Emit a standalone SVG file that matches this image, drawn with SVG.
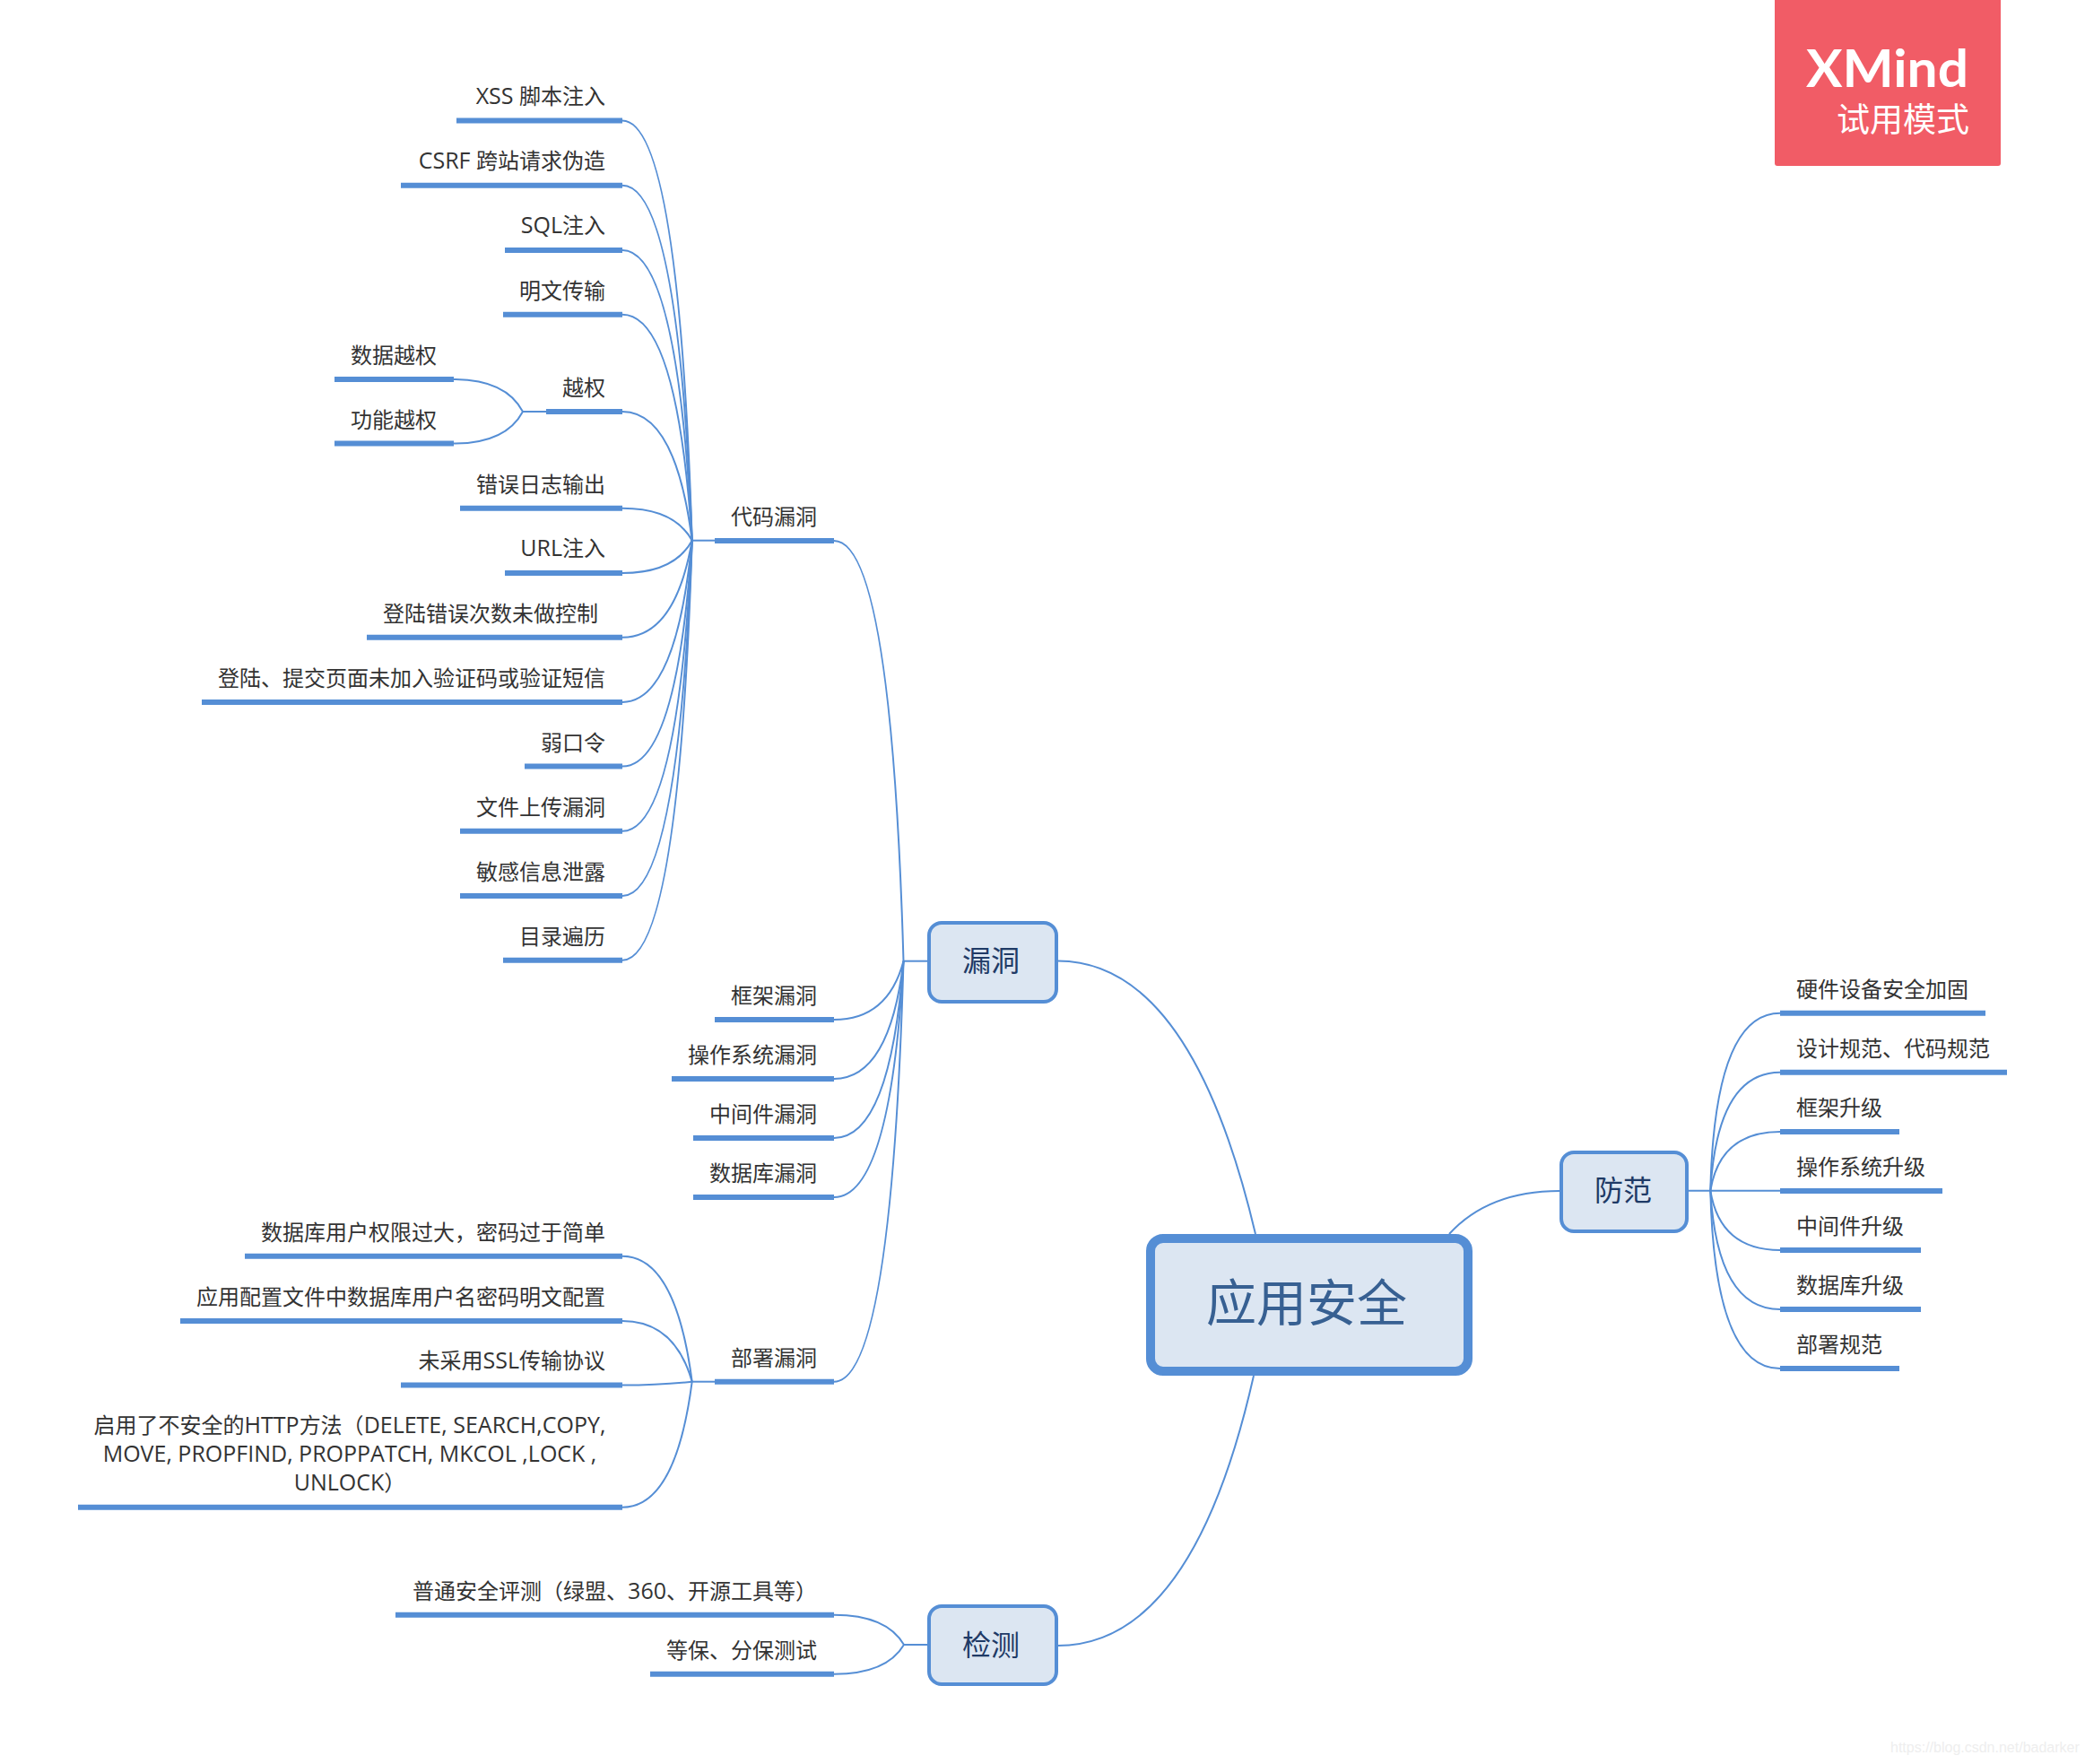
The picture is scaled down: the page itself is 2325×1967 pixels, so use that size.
<svg xmlns="http://www.w3.org/2000/svg" width="2325" height="1967" viewBox="0 0 2325 1967">
<style>
text{font-family:"Open Sans","Noto Sans CJK SC",sans-serif;fill:#333;font-size:24px}
tspan{font-size:25px}
.e{text-anchor:end}
.m{text-anchor:middle}
.u{stroke:#558ed5;stroke-width:6;fill:none}
.c{stroke:#558ed5;stroke-width:2;fill:none}
.n{fill:#dce6f2;stroke:#558ed5;stroke-width:4}
.t{font-size:32px;fill:#1f3a66;text-anchor:middle}
</style>
<rect width="2325" height="1967" fill="#fff"/>
<g id="connectors">
<path class="c" d="M1179.5 1071.5Q1328 1071.5 1400 1376"/>
<path class="c" d="M1179.5 1835Q1330 1835 1398 1534"/>
<path class="c" d="M1616 1376Q1660 1328 1739 1328"/>
<path class="c" d="M1034 1071.7H1007.5"/>
<path class="c" d="M1034 1834H1008"/>
<path class="c" d="M1883 1327.7H1985"/>
<path class="c" d="M797 602.7H771.7"/>
<path class="c" d="M797 1540.7H771.7"/>
<path class="c" d="M609 459H583"/>
<path class="c" d="M930 602.9Q994 602.9 1007.5 1071.7"/>
<path class="c" d="M930 1137Q990 1137 1007.5 1071.7"/>
<path class="c" d="M930 1203Q992 1203 1007.5 1071.7"/>
<path class="c" d="M930 1269Q992.5 1269 1007.5 1071.7"/>
<path class="c" d="M930 1335Q993 1335 1007.5 1071.7"/>
<path class="c" d="M930 1540.7Q994 1540.7 1007.5 1071.7"/>
<path class="c" d="M694 134.6Q757 134.6 771.7 602.7"/>
<path class="c" d="M694 206.8Q756.5 206.8 771.7 602.7"/>
<path class="c" d="M694 279Q755.7 279 771.7 602.7"/>
<path class="c" d="M694 350.7Q755 350.7 771.7 602.7"/>
<path class="c" d="M694 459Q753.5 459 771.7 602.7"/>
<path class="c" d="M694 566.8Q752 566.8 771.7 602.7"/>
<path class="c" d="M694 639Q752 639 771.7 602.7"/>
<path class="c" d="M694 710.7Q753 710.7 771.7 602.7"/>
<path class="c" d="M694 782.9Q754 782.9 771.7 602.7"/>
<path class="c" d="M694 854.6Q755 854.6 771.7 602.7"/>
<path class="c" d="M694 926.8Q755.7 926.8 771.7 602.7"/>
<path class="c" d="M694 999Q756.5 999 771.7 602.7"/>
<path class="c" d="M694 1070.7Q757 1070.7 771.7 602.7"/>
<path class="c" d="M506 422.9Q564 422.9 583 459"/>
<path class="c" d="M506 494.6Q564 494.6 583 459"/>
<path class="c" d="M694 1400.7Q753.5 1400.7 771.7 1540.7"/>
<path class="c" d="M694 1472.9Q752.5 1472.9 771.7 1540.7"/>
<path class="c" d="M694 1544.6Q735 1544.6 771.7 1540.7"/>
<path class="c" d="M694 1680.7Q753.5 1680.7 771.7 1540.7"/>
<path class="c" d="M930 1800.7Q988.5 1800.7 1008 1834"/>
<path class="c" d="M930 1866.7Q988.5 1866.7 1008 1834"/>
<path class="c" d="M1985 1129.7Q1912 1129.7 1907.3 1327.7"/>
<path class="c" d="M1985 1195.7Q1915 1195.7 1907.3 1327.7"/>
<path class="c" d="M1985 1262Q1918 1262 1907.3 1327.7"/>
<path class="c" d="M1985 1394Q1918 1394 1907.3 1327.7"/>
<path class="c" d="M1985 1460Q1915 1460 1907.3 1327.7"/>
<path class="c" d="M1985 1526Q1912 1526 1907.3 1327.7"/>
</g>
<g id="root"><rect x="1283" y="1381" width="354" height="148" rx="14" fill="#dce6f2" stroke="#558ed5" stroke-width="10"/><text x="1457" y="1473" text-anchor="middle" style="font-size:56px;fill:#376092">应用安全</text></g>
<g id="n-loudong"><rect class="n" x="1036" y="1029" width="142" height="88" rx="14"/><text class="t" x="1105" y="1083">漏洞</text></g>
<g id="n-fangfan"><rect class="n" x="1741" y="1285" width="140" height="88" rx="14"/><text class="t" x="1810" y="1339">防范</text></g>
<g id="n-jiance"><rect class="n" x="1036" y="1791" width="142" height="87" rx="14"/><text class="t" x="1105" y="1846">检测</text></g>
<g id="n-daima"><path class="u" d="M797 602.9H930"/><text class="e" x="911" y="585">代码漏洞</text></g>
<g id="n-kuangjia"><path class="u" d="M797 1137H930"/><text class="e" x="911" y="1119">框架漏洞</text></g>
<g id="n-caozuo"><path class="u" d="M749 1203H930"/><text class="e" x="911" y="1185">操作系统漏洞</text></g>
<g id="n-zhongjian"><path class="u" d="M773 1269H930"/><text class="e" x="911" y="1251">中间件漏洞</text></g>
<g id="n-shujuku"><path class="u" d="M773 1335H930"/><text class="e" x="911" y="1317">数据库漏洞</text></g>
<g id="n-bushu"><path class="u" d="M797 1540.7H930"/><text class="e" x="911" y="1523">部署漏洞</text></g>
<g id="l1"><path class="u" d="M509 134.6H694"/><text class="e" x="675" y="116"><tspan>XSS </tspan>脚本注入</text></g>
<g id="l2"><path class="u" d="M447 206.8H694"/><text class="e" x="675" y="188"><tspan>CSRF </tspan>跨站请求伪造</text></g>
<g id="l3"><path class="u" d="M563 279H694"/><text class="e" x="675" y="260"><tspan>SQL</tspan>注入</text></g>
<g id="l4"><path class="u" d="M561 350.7H694"/><text class="e" x="675" y="333">明文传输</text></g>
<g id="l5"><path class="u" d="M609 459H694"/><text class="e" x="675" y="441">越权</text></g>
<g id="l5a"><path class="u" d="M373 422.9H506"/><text class="e" x="487" y="405">数据越权</text></g>
<g id="l5b"><path class="u" d="M373 494.6H506"/><text class="e" x="487" y="477">功能越权</text></g>
<g id="l6"><path class="u" d="M513 566.8H694"/><text class="e" x="675" y="549">错误日志输出</text></g>
<g id="l7"><path class="u" d="M563 639H694"/><text class="e" x="675" y="620"><tspan>URL</tspan>注入</text></g>
<g id="l8"><path class="u" d="M409 710.7H694"/><text class="e" x="667" y="693">登陆错误次数未做控制</text></g>
<g id="l9"><path class="u" d="M225 782.9H694"/><text class="e" x="675" y="765">登陆、提交页面未加入验证码或验证短信</text></g>
<g id="l10"><path class="u" d="M585 854.6H694"/><text class="e" x="675" y="837">弱口令</text></g>
<g id="l11"><path class="u" d="M513 926.8H694"/><text class="e" x="675" y="909">文件上传漏洞</text></g>
<g id="l12"><path class="u" d="M513 999H694"/><text class="e" x="675" y="981">敏感信息泄露</text></g>
<g id="l13"><path class="u" d="M561 1070.7H694"/><text class="e" x="675" y="1053">目录遍历</text></g>
<g id="d1"><path class="u" d="M273 1400.7H694"/><text class="e" x="675" y="1383">数据库用户权限过大，密码过于简单</text></g>
<g id="d2"><path class="u" d="M201 1472.9H694"/><text class="e" x="675" y="1455">应用配置文件中数据库用户名密码明文配置</text></g>
<g id="d3"><path class="u" d="M447 1544.6H694"/><text class="e" x="675" y="1526">未采用<tspan>SSL</tspan>传输协议</text></g>
<g id="d4"><path class="u" d="M87 1680.7H694"/><text class="m" x="390" y="1598">启用了不安全的<tspan>HTTP</tspan>方法（<tspan>DELETE, SEARCH,COPY,</tspan></text><text class="m" x="390" y="1630"><tspan>MOVE, PROPFIND, PROPPATCH, MKCOL ,LOCK ,</tspan></text><text class="m" x="390" y="1662"><tspan>UNLOCK</tspan>）</text></g>
<g id="t1"><path class="u" d="M441 1800.7H930"/><text class="e" x="911" y="1783">普通安全评测（绿盟、<tspan>360</tspan>、开源工具等）</text></g>
<g id="t2"><path class="u" d="M725 1866.7H930"/><text class="e" x="911" y="1849">等保、分保测试</text></g>
<g id="f1"><path class="u" d="M1985 1129.7H2214"/><text x="2003" y="1111.5">硬件设备安全加固</text></g>
<g id="f2"><path class="u" d="M1985 1195.7H2238"/><text x="2003" y="1177.5">设计规范、代码规范</text></g>
<g id="f3"><path class="u" d="M1985 1262H2118"/><text x="2003" y="1243.5">框架升级</text></g>
<g id="f4"><path class="u" d="M1985 1328H2166"/><text x="2003" y="1309.5">操作系统升级</text></g>
<g id="f5"><path class="u" d="M1985 1394H2142"/><text x="2003" y="1375.5">中间件升级</text></g>
<g id="f6"><path class="u" d="M1985 1460H2142"/><text x="2003" y="1441.5">数据库升级</text></g>
<g id="f7"><path class="u" d="M1985 1526H2118"/><text x="2003" y="1507.5">部署规范</text></g>
<g id="badge"><path d="M1979 0H2231V182Q2231 185 2228 185H1982Q1979 185 1979 182Z" fill="#f15c66"/><text x="2014" y="97" textLength="181" lengthAdjust="spacingAndGlyphs" style="font-family:'Lato','Open Sans',sans-serif;font-size:57px;font-weight:700;fill:#fff">XMind</text><text x="2048" y="147" style="font-size:37px;fill:#fff">试用模式</text></g>
<text id="watermark" x="2108" y="1954" style="font-family:'Liberation Sans',sans-serif;font-size:16px;fill:#eee">https://blog.csdn.net/badarker</text>
</svg>
